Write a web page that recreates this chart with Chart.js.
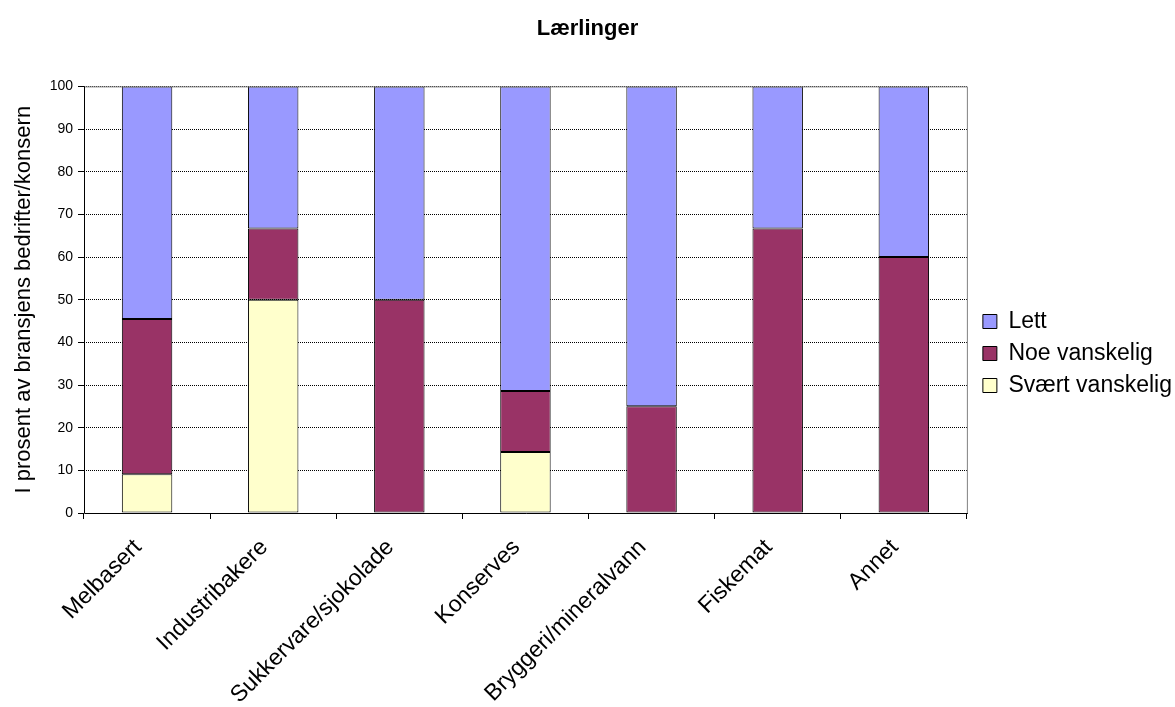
<!DOCTYPE html>
<html>
<head>
<meta charset="utf-8">
<script src="https://cdn.jsdelivr.net/npm/chart.js@4"></script>
<style>
  html, body { margin: 0; padding: 0; background: #fff; }
  #wrap { width: 1175px; height: 707px; position: relative; }
</style>
</head>
<body>
<div id="wrap"><canvas id="chart"></canvas></div>
<script>
const categories = ['Melbasert', 'Industribakere', 'Sukkervare/sjokolade', 'Konserves', 'Bryggeri/mineralvann', 'Fiskemat', 'Annet'];
const svaertVanskelig = [9.1, 50, 0, 14.3, 0, 0, 0];
const noeVanskelig = [36.4, 16.7, 50, 14.3, 25, 66.7, 60];
const lett = [54.5, 33.3, 50, 71.4, 75, 33.3, 40];
const yTicks = [0, 10, 20, 30, 40, 50, 60, 70, 80, 90, 100];

const font = "Arial, 'Liberation Sans', sans-serif";

// frame round the plot area: grey top/right, black axes
const framePlugin = {
    id: 'frame',
    afterLayout(chart) {
        // nudge the legend a little away from the plot area
        chart.legend.left += 7;
        chart.legend.right += 7;
    },
    afterDraw(chart) {
        const { ctx, chartArea: a } = chart;
        ctx.save();
        ctx.lineWidth = 1;
        ctx.strokeStyle = '#808080';
        ctx.beginPath();
        ctx.moveTo(a.left, a.top + 0.5);
        ctx.lineTo(a.right + 0.5, a.top + 0.5);
        ctx.lineTo(a.right + 0.5, a.bottom);
        ctx.stroke();
        ctx.strokeStyle = '#000';
        ctx.beginPath();
        ctx.moveTo(a.left + 0.5, a.top);
        ctx.lineTo(a.left + 0.5, a.bottom + 0.5);
        ctx.lineTo(a.right + 1, a.bottom + 0.5);
        ctx.stroke();
        ctx.restore();
    }
};

const makeSet = (label, data, color) => ({
    label, data,
    backgroundColor: color,
    borderColor: '#000',
    borderWidth: 1,
    borderSkipped: false,
    categoryPercentage: 0.8,
    barPercentage: 0.5
});

new Chart(document.getElementById('chart'), {
    type: 'bar',
    data: {
        labels: categories,
        datasets: [
            makeSet('Svært vanskelig', svaertVanskelig, '#FFFFCC'),
            makeSet('Noe vanskelig', noeVanskelig, '#993366'),
            makeSet('Lett', lett, '#9999FF')
        ]
    },
    options: {
        responsive: true,
        maintainAspectRatio: false,
        animation: false,
        layout: { padding: 0 },
        plugins: {
            title: {
                display: true,
                text: 'Lærlinger',
                color: '#000',
                font: { family: font, size: 22, weight: 'bold' },
                padding: { top: 16, bottom: 44 }
            },
            legend: {
                position: 'right',
                reverse: true,
                labels: {
                    color: '#000',
                    font: { family: font, size: 23 },
                    boxWidth: 14,
                    boxHeight: 14,
                    padding: 9,
                    useBorderRadius: false
                }
            },
            tooltip: { enabled: false }
        },
        scales: {
            x: {
                stacked: true,
                afterFit: (axis) => { axis.height = 194; },
                grid: { drawOnChartArea: false, drawTicks: true, tickLength: 6, color: '#000', offset: true },
                border: { display: false },
                ticks: {
                    color: '#000',
                    font: { family: font, size: 23 },
                    minRotation: 45,
                    maxRotation: 45,
                    autoSkip: false,
                    padding: 15,
                    labelOffset: -9
                }
            },
            y: {
                stacked: true,
                min: 0,
                max: 100,
                afterFit: (axis) => { axis.width = 84; },
                afterBuildTicks: (axis) => { axis.ticks = yTicks.map(v => ({ value: v })); },
                grid: {
                    color: (c) => c.tick && c.tick.value === 0 ? 'rgba(0,0,0,0)' : '#000',
                    tickColor: '#000',
                    tickLength: 6
                },
                border: { display: false, dash: [1, 1] },
                ticks: { color: '#000', font: { family: font, size: 14 }, padding: 5 },
                title: {
                    display: true,
                    text: 'I prosent av bransjens bedrifter/konsern',
                    color: '#000',
                    font: { family: font, size: 22 },
                    padding: { top: 11, bottom: 0 }
                }
            }
        }
    },
    plugins: [framePlugin]
});
</script>
</body>
</html>
